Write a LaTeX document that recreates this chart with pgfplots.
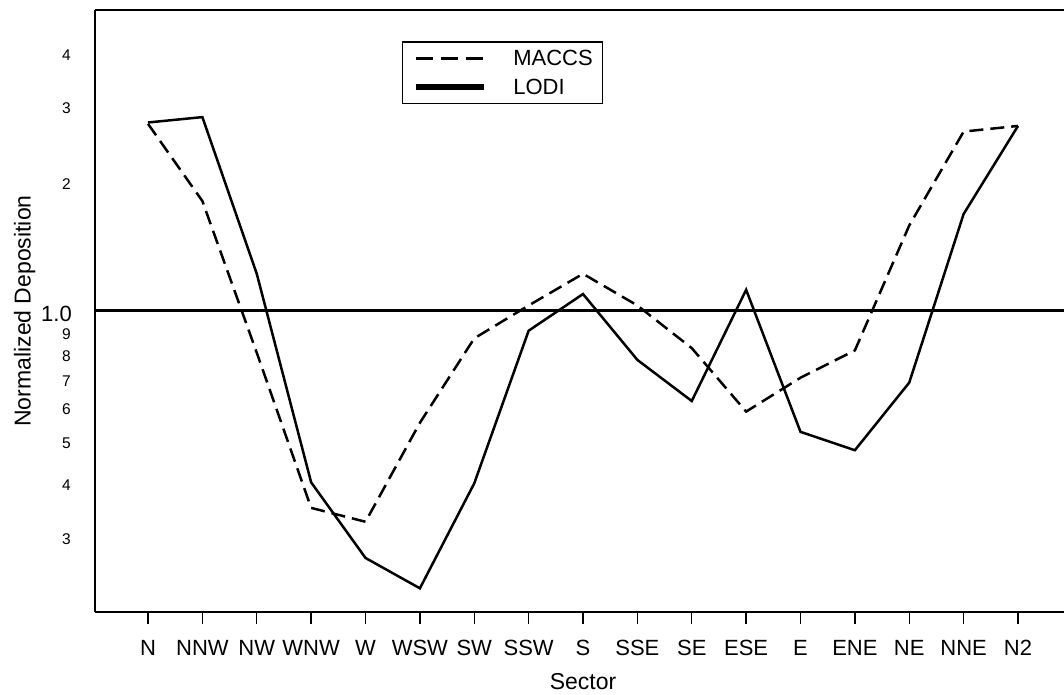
\documentclass[border=0pt]{standalone}
\usepackage{fontspec}
\setmainfont{Liberation Sans}
\usepackage{pgfplots}
\usepackage{pgfplotstable}
\pgfplotsset{compat=1.18}
\usetikzlibrary{calc}

\pgfplotstableread{
x y
0 2.74
1 2.82
2 1.22
3 0.40
4 0.267
5 0.227
6 0.398
7 0.90
8 1.095
9 0.77
10 0.618
11 1.12
12 0.524
13 0.475
14 0.682
15 1.68
16 2.69
}\lodi

\pgfplotstableread{
x y
0 2.72
1 1.80
2 0.80
3 0.349
4 0.324
5 0.55
6 0.864
7 1.03
8 1.22
9 1.03
10 0.82
11 0.584
12 0.70
13 0.81
14 1.58
15 2.61
16 2.69
}\maccs

\begin{document}
\begin{tikzpicture}
\begin{axis}[
  name=ax,
  scale only axis, width=969pt, height=602pt,
  xmin=-0.975, xmax=16.846,
  ymode=log, ymin=0.2, ymax=5,
  axis x line=box, axis y line=left,
  x axis line style={-, line width=2.2pt},
  y axis line style={-, line width=2.2pt},
  xtick={0,...,16},
  xticklabels={N,NNW,NW,WNW,W,WSW,SW,SSW,S,SSE,SE,ESE,E,ENE,NE,NNE,N2},
  xtick pos=left,
  xtick style={draw=black, line width=1.3pt},
  tick align=outside,
  major tick length=12pt,
  xticklabel style={font=\fontsize{22}{24}\selectfont, anchor=north, inner sep=0pt, text height=16pt, yshift=-15pt},
  ytick={0.3,0.4,0.5,0.6,0.7,0.8,0.9,2,3,4},
  yticklabels={3,4,5,6,7,8,9,2,3,4},
  ytick style={draw=none},
  minor ytick={},
  yticklabel style={font=\fontsize{15.5}{17}\selectfont, anchor=east, inner sep=0pt, xshift=-12pt, yshift=-3pt},
  extra y ticks={1},
  extra y tick labels={1.0},
  extra y tick style={grid=major, major grid style={line width=3pt, black},
    tick style={draw=black, line width=1.3pt}, major tick length=13pt,
    yticklabel style={font=\fontsize{22}{24}\selectfont, xshift=2pt}},
  xlabel={Sector},
  xlabel style={at={($(rel axis cs:0.5036,0)+(0pt,-61pt)$)}, anchor=north, inner sep=0pt, font=\fontsize{23}{25}\selectfont},
  ylabel={Normalized Deposition},
  ylabel style={at={($(rel axis cs:0,0.5)+(-59.5pt,0pt)$)}, anchor=south, inner sep=0pt, font=\fontsize{23}{25}\selectfont},
  legend style={at={(rel axis cs:0.317,0.948)}, anchor=north west, draw=black, line width=1.3pt,
    font=\fontsize{22}{24}\selectfont, inner xsep=10pt, inner ysep=8pt, row sep=12pt,
    column sep=27pt, nodes={inner sep=0pt, font=\fontsize{22}{24}\selectfont}},
  legend cell align=left,
  legend image code/.code={\draw[#1] (0pt,0pt) -- (68pt,0pt);},
]
\addplot[black, line width=2.5pt, dash pattern=on 14pt off 7pt, forget plot] table[x=x,y=y] {\maccs};
\addplot[black, line width=2.5pt, forget plot] table[x=x,y=y] {\lodi};
\addlegendimage{black, line width=2.5pt, dash pattern=on 17pt off 8pt}
\addlegendentry{MACCS}
\addlegendimage{black, line width=5.5pt}
\addlegendentry{LODI}
\end{axis}
\pgfresetboundingbox
\path[use as bounding box] ($(ax.south west)+(-95pt,-82pt)$) rectangle ($(ax.north east)+(0pt,10pt)$);
\end{tikzpicture}
\end{document}
